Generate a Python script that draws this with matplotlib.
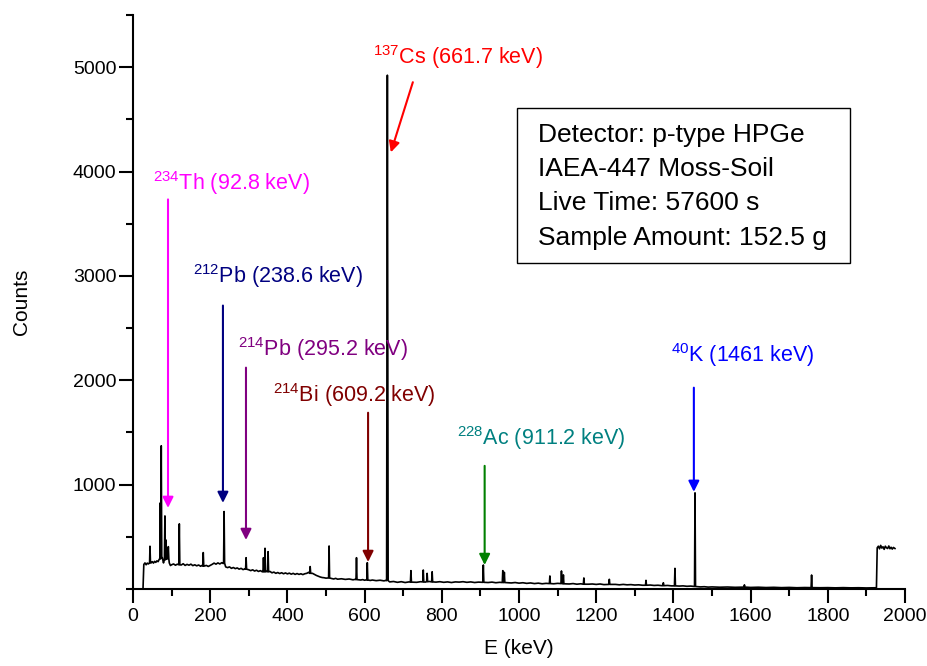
import numpy as np
import matplotlib
matplotlib.use("Agg")
import matplotlib.pyplot as plt
from matplotlib.patches import Rectangle
from matplotlib.ticker import MultipleLocator

plt.rcParams['font.family'] = ['Liberation Sans', 'DejaVu Sans']
plt.rcParams['mathtext.fontset'] = 'custom'
plt.rcParams['mathtext.rm'] = 'Liberation Sans'
plt.rcParams['mathtext.it'] = 'Liberation Sans:italic'
plt.rcParams['mathtext.bf'] = 'Liberation Sans:bold'

# ---- continuum (energy keV, counts) ----
cont_e = [26, 28, 31, 34, 37, 40, 43, 47, 50, 53, 56, 59, 62, 65, 68, 70, 76, 79, 81, 88, 94, 97,
          100, 105, 110, 115, 125, 130, 135, 140, 145, 150, 155, 160, 165, 170, 175, 180, 185, 190,
          195, 200, 205, 210, 215, 220, 225, 230, 234,
          240, 245, 250, 255, 260, 265, 270, 275, 280, 285, 290, 300, 305, 310, 315, 320, 325, 330,
          335, 345, 355, 360, 365, 370, 375, 380, 385, 390, 395, 400, 405, 410, 415, 420, 425, 430,
          435, 440, 445, 450, 455, 465, 470, 475, 480, 485, 490, 495, 500, 505, 515, 520, 525, 530,
          540, 550, 560, 570, 575, 590, 595, 600, 605, 615, 620, 630, 640, 650, 655,
          665, 675, 685, 695, 705, 715, 735, 745, 757, 768, 785, 795, 805, 815, 825, 835, 845, 855,
          865, 875, 885, 895, 920, 930, 940, 950, 980, 990, 1000, 1010, 1020, 1030, 1040, 1050, 1060,
          1070, 1090, 1100, 1130, 1140, 1150, 1160, 1180, 1190, 1200, 1210, 1220, 1250, 1260, 1270,
          1280, 1290, 1300, 1310, 1320, 1340, 1350, 1360, 1370, 1385, 1395, 1415, 1425, 1435, 1445,
          1452, 1470, 1480, 1490, 1500, 1520, 1540, 1560, 1580, 1600, 1620, 1640, 1660, 1680, 1700,
          1720, 1740, 1780, 1800, 1820, 1840, 1860, 1880, 1900, 1920, 1926,
          1928, 1931, 1934, 1937, 1940, 1943, 1946, 1949, 1952, 1955, 1958, 1961, 1964, 1967, 1970, 1974]
cont_c = [10, 235, 250, 232, 248, 240, 255, 250, 262, 248, 265, 255, 270, 262, 285, 290, 300, 250, 280, 290, 250, 225,
          232, 240, 228, 238, 230, 242, 226, 236, 228, 238, 224, 232, 222, 230, 218, 228, 220, 226,
          216, 226, 236, 248, 238, 250, 240, 252, 244,
          212, 205, 212, 198, 206, 195, 202, 190, 198, 186, 192, 184, 176, 184, 172, 180, 168, 176,
          165, 170, 168, 155, 162, 150, 158, 148, 156, 146, 154, 145, 152, 142, 150, 140, 148, 140,
          146, 138, 146, 150, 160, 150, 140, 130, 122, 115, 110, 108, 104, 106, 100, 96, 102, 94,
          98, 92, 96, 88, 92, 86, 90, 84, 88, 82, 86, 80, 84, 78, 82,
          68, 72, 64, 70, 62, 68, 64, 70, 66, 72, 66, 70, 64, 68, 62, 68, 66, 70,
          64, 68, 62, 66, 62, 66, 60, 64, 58, 62, 56, 60, 54, 58, 52, 56, 50,
          54, 50, 54, 48, 52, 46, 50, 46, 48, 44, 48, 42, 44, 40, 44,
          40, 42, 38, 40, 36, 38, 34, 36, 32, 34, 30, 28, 30, 26, 28,
          25, 20, 22, 18, 20, 17, 19, 16, 18, 15, 17, 14, 16, 13, 15,
          12, 14, 12, 13, 11, 13, 11, 12, 10, 12, 12,
          395, 410, 385, 418, 392, 405, 380, 410, 395, 388, 412, 386, 400, 382, 398, 388]

# ---- peaks (centre keV, top counts, base counts) ----
peak_e = [44, 70.6, 73.2, 82.7, 85.3, 91.5, 120, 182, 236, 293, 338, 342, 350, 459, 508, 579,
          607, 659, 720, 752, 762, 775, 907.6, 958, 962, 1080, 1110, 1115, 1168, 1234, 1329, 1374,
          1404, 1456, 1584, 1758]
peak_h = [410, 825, 1372, 700, 470, 406, 624, 349, 742, 300, 300, 390, 358, 215, 412, 300,
          252, 4923, 176, 182, 150, 165, 230, 176, 160, 125, 173, 135, 106, 93, 83, 60,
          198, 921, 40, 134]
peak_b = [250, 290, 300, 280, 285, 290, 232, 220, 248, 190, 165, 165, 165, 150, 106, 90,
          86, 80, 66, 68, 70, 68, 64, 62, 62, 52, 52, 50, 46, 44, 36, 32,
          30, 24, 18, 13]

# ---- annotations ----
labels = [r'$\mathregular{^{234}}$Th (92.8 keV)', r'$\mathregular{^{212}}$Pb (238.6 keV)',
          r'$\mathregular{^{214}}$Pb (295.2 keV)', r'$\mathregular{^{214}}$Bi (609.2 keV)',
          r'$\mathregular{^{228}}$Ac (911.2 keV)', r'$\mathregular{^{40}}$K (1461 keV)',
          r'$\mathregular{^{137}}$Cs (661.7 keV)']
text_colors = ['#FF00FF', '#000080', '#800080', '#800000', '#008080', '#0000FF', '#FF0000']
arrow_colors = ['#FF00FF', '#000080', '#800080', '#800000', '#008000', '#0000FF', '#FF0000']
label_xy = [(52, 3887), (155, 2994), (272, 2303), (363, 1862), (839, 1449), (1394, 2246), (622, 5096)]
arrow_tail = [(90.7, 3733), (233, 2716), (292.7, 2121), (609, 1689), (911, 1180), (1453, 1929), (725, 4856)]
arrow_head = [(90.7, 777), (233, 825), (292.7, 470), (609, 259), (911, 230), (1453, 931), (668, 4184)]

info_lines = ['Detector: p-type HPGe', 'IAEA-447 Moss-Soil', 'Live Time: 57600 s',
              'Sample Amount: 152.5 g']

# build spectrum polyline
pts = list(zip(cont_e, cont_c))
for e, h, b in zip(peak_e, peak_h, peak_b):
    w = 2.0 if h > 3000 else 1.3
    pts += [(e - w, b), (e, h), (e + w, b)]
pts.sort(key=lambda p: p[0])
spec_e = np.array([p[0] for p in pts])
spec_c = np.array([p[1] for p in pts])

fig = plt.figure(figsize=(9.27, 6.66), dpi=100)
ax = fig.add_axes([133/927, 1 - 589/666, (905-133)/927, (589-15)/666])
ax.plot(spec_e, spec_c, color='black', lw=1.2)

ax.set_xlim(0, 2000)
ax.set_ylim(0, 5500)
ax.xaxis.set_major_locator(MultipleLocator(200))
ax.xaxis.set_minor_locator(MultipleLocator(100))
ax.yaxis.set_major_locator(MultipleLocator(1000))
ax.yaxis.set_minor_locator(MultipleLocator(500))
ax.set_yticks([1000, 2000, 3000, 4000, 5000])
ax.spines['top'].set_visible(False)
ax.spines['right'].set_visible(False)
for s in ['left', 'bottom']:
    ax.spines[s].set_linewidth(1.5)
ax.tick_params(which='major', direction='out', length=10, width=1.5, labelsize=14)
ax.tick_params(axis='y', which='major', pad=2)
ax.tick_params(which='minor', direction='out', length=5, width=1.5)
ax.set_xlabel('E (keV)', fontsize=15, labelpad=10)
ax.set_ylabel('Counts', fontsize=15, labelpad=30)

for lab, tc, ac, lxy, t, h in zip(labels, text_colors, arrow_colors, label_xy, arrow_tail, arrow_head):
    ax.annotate('', xy=h, xytext=t,
                arrowprops=dict(arrowstyle='-|>', color=ac, lw=1.5, mutation_scale=16,
                                shrinkA=0, shrinkB=0))
    ax.text(lxy[0], lxy[1], lab, color=tc, fontsize=15.5, ha='left', va='center')

ax.add_patch(Rectangle((994.8, 3119), 862.7, 1488, fill=False, ec='black', lw=1.0))
for i, (line, cy) in enumerate(zip(info_lines, [4347, 4021, 3695, 3359])):
    ax.text(1049, cy, line, fontsize=19, ha='left', va='center', color='black')

fig.savefig('out.png', dpi=100)
